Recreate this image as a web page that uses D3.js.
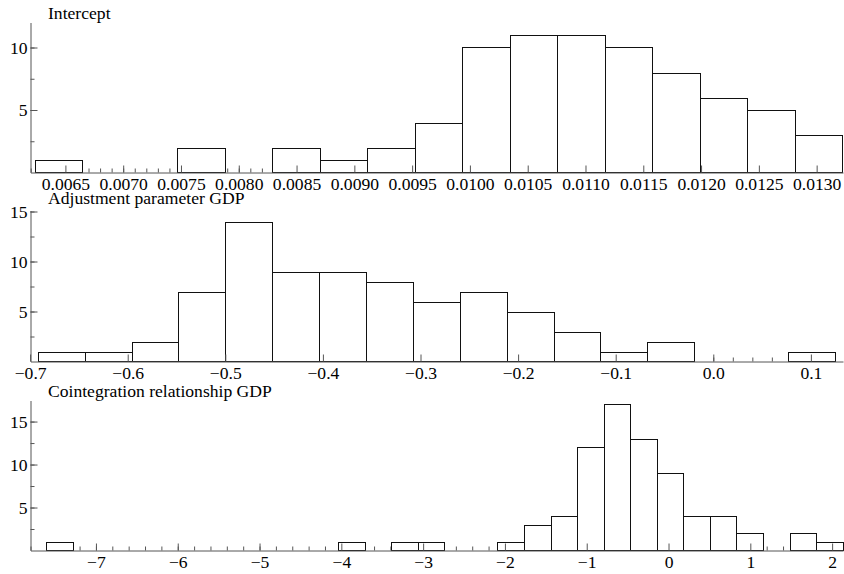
<!DOCTYPE html>
<html>
<head>
<meta charset="utf-8">
<script src="https://cdn.jsdelivr.net/npm/d3@7"></script>
<style>
body { margin: 0; background: #fff; }
svg text { font-family: "Liberation Serif", "Times New Roman", serif; font-size: 17.6px; fill: #000; }
.axis path, .axis line { stroke: #555; stroke-width: 1; }
</style>
</head>
<body>
<svg id="chart" width="844" height="574"></svg>
<script>
// Intercept
var interceptEdges = [0.006235, 0.006646, 0.007057, 0.007468, 0.007879, 0.008290, 0.008701, 0.009112, 0.009523,
    0.009934, 0.010345, 0.010756, 0.011167, 0.011578, 0.011989, 0.012400, 0.012811, 0.013222]
var interceptCounts = [1, 0, 0, 2, 0, 2, 1, 2, 4, 10, 11, 11, 10, 8, 6, 5, 3]
var interceptTicks = [0.0065, 0.0070, 0.0075, 0.0080, 0.0085, 0.0090, 0.0095, 0.0100, 0.0105, 0.0110, 0.0115, 0.0120, 0.0125, 0.0130]
var interceptYTicks = [5, 10]

// Adjustment parameter GDP
var adjEdges = [-0.6922, -0.6442, -0.5961, -0.5481, -0.5000, -0.4520, -0.4039, -0.3559, -0.3078,
    -0.2598, -0.2117, -0.1637, -0.1156, -0.0676, -0.0195, 0.0285, 0.0766, 0.1246]
var adjCounts = [1, 1, 2, 7, 14, 9, 9, 8, 6, 7, 5, 3, 1, 2, 0, 0, 1]
var adjTicks = [-0.7, -0.6, -0.5, -0.4, -0.3, -0.2, -0.1, 0.0, 0.1]
var adjYTicks = [5, 10, 15]

// Cointegration relationship GDP
var cointEdges = [-7.611, -7.286, -6.962, -6.637, -6.312, -5.988, -5.663, -5.338, -5.013, -4.689, -4.364,
    -4.039, -3.715, -3.390, -3.065, -2.741, -2.416, -2.091, -1.766, -1.442, -1.117, -0.792, -0.468,
    -0.143, 0.182, 0.507, 0.831, 1.156, 1.481, 1.805, 2.130]
var cointCounts = [1, 0, 0, 0, 0, 0, 0, 0, 0, 0, 0, 1, 0, 1, 1, 0, 0, 1, 3, 4, 12, 17, 13, 9, 4, 4, 2, 0, 2, 1]
var cointTicks = [-7, -6, -5, -4, -3, -2, -1, 0, 1, 2]
var cointYTicks = [5, 10, 15]

var panels = [
    { title: 'Intercept', edges: interceptEdges, counts: interceptCounts, ticks: interceptTicks, yTicks: interceptYTicks,
      xDomain: [0.006198, 0.013228], minorStep: 0.0001, fmt: d3.format('.4f'),
      yMax: 12, base: 172.5, top: 22.5, titleY: 18.5 },
    { title: 'Adjustment parameter GDP', edges: adjEdges, counts: adjCounts, ticks: adjTicks, yTicks: adjYTicks,
      xDomain: [-0.6996, 0.1329], minorStep: 0.02, fmt: d3.format('.1f'),
      yMax: 15.1, base: 361.5, top: 210.5, titleY: 204 },
    { title: 'Cointegration relationship GDP', edges: cointEdges, counts: cointCounts, ticks: cointTicks, yTicks: cointYTicks,
      xDomain: [-7.8, 2.133], minorStep: 0.2, fmt: d3.format('d'),
      yMax: 17.45, base: 550.5, top: 400.5, titleY: 396.5 }
]

var svg = d3.select('#chart')
var left = 30.5, right = 843

panels.forEach(drawPanel)

function drawPanel(p) {
    var x = d3.scaleLinear().domain(p.xDomain).range([left, right])
    var y = d3.scaleLinear().domain([0, p.yMax]).range([p.base, p.top])

    var g = svg.append('g')

    // minor ticks
    var minor = d3.range(Math.ceil(p.xDomain[0] / p.minorStep), Math.floor(p.xDomain[1] / p.minorStep) + 1)
        .map(function (k) { return k * p.minorStep })
    g.append('g')
        .attr('class', 'axis')
        .attr('transform', 'translate(0,' + p.base + ')')
        .call(d3.axisBottom(x).tickValues(minor).tickSize(-4).tickSizeOuter(0).tickFormat(''))
        .select('.domain').remove()

    var yMinor = d3.range(2.5, p.yMax, 2.5)
    g.append('g')
        .attr('class', 'axis')
        .attr('transform', 'translate(' + left + ',0)')
        .call(d3.axisLeft(y).tickValues(yMinor).tickSize(-4).tickSizeOuter(0).tickFormat(''))
        .select('.domain').remove()

    // bars
    var bars = p.counts.map(function (c, i) { return { x0: p.edges[i], x1: p.edges[i + 1], n: c } })
        .filter(function (d) { return d.n > 0 })
    g.selectAll('rect')
        .data(bars)
        .enter()
        .append('rect')
        .attr('x', function (d) { return Math.round(x(d.x0)) + 0.5 })
        .attr('y', function (d) { return Math.round(y(d.n)) + 0.5 })
        .attr('width', function (d) { return Math.round(x(d.x1)) - Math.round(x(d.x0)) })
        .attr('height', function (d) { return p.base - (Math.round(y(d.n)) + 0.5) })
        .attr('fill', 'white')
        .attr('stroke', '#111')
        .attr('stroke-width', 1)

    // major axes
    var xAxis = g.append('g')
        .attr('class', 'axis')
        .attr('transform', 'translate(0,' + p.base + ')')
        .call(d3.axisBottom(x).tickValues(p.ticks).tickSize(-7).tickSizeOuter(0).tickPadding(5).tickFormat(p.fmt))
    xAxis.selectAll('text').attr('font-size', null)

    var yAxis = g.append('g')
        .attr('class', 'axis')
        .attr('transform', 'translate(' + left + ',0)')
        .call(d3.axisLeft(y).tickValues(p.yTicks).tickSize(-7).tickSizeOuter(0).tickPadding(3))
    yAxis.selectAll('text').attr('font-size', null)

    svg.selectAll('.axis').attr('font-family', null).attr('font-size', null)

    g.append('text')
        .attr('x', 48)
        .attr('y', p.titleY)
        .text(p.title)
}
</script>
</body>
</html>
